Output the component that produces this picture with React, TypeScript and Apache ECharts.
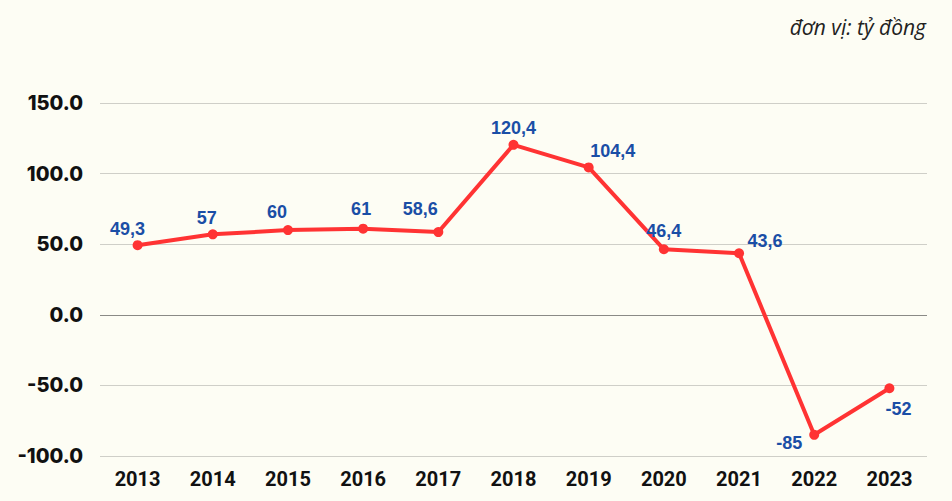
import React, { useEffect, useRef } from "react";
import * as echarts from "echarts";

const years = ["2013", "2014", "2015", "2016", "2017", "2018", "2019", "2020", "2021", "2022", "2023"];
const values = [49.3, 57, 60, 61, 58.6, 120.4, 104.4, 46.4, 43.6, -85, -52];
const yTicks = [-100, -50, 0, 50, 100, 150];
const unitText = "đơn vị: tỷ đồng";

// label placement tweaks (styling only)
const labelOffsets: [number, number][] = [
  [-10, 3], [-6, 3], [-11, 1], [-2, -1], [-18, -4], [0, 2], [24, 3], [0, 1], [26, 7], [-2, 8], [9, 2],
];

export default function App() {
  const ref = useRef<HTMLDivElement>(null);
  useEffect(() => {
    document.body.style.margin = "0";
    const chart = echarts.init(ref.current!, null, { renderer: "svg" });
    const labelPos = (i: number) => {
      let position = "top";
      if (i === 9) position = "left";
      if (i === 10) position = "bottom";
      return { position, offset: labelOffsets[i] };
    };
    chart.setOption({
      animation: false,
      backgroundColor: "#fdfdf4",
      graphic: [
        {
          type: "text",
          right: 26,
          top: 16,
          style: {
            text: unitText,
            font: "italic 21px 'Open Sans'",
            fill: "#222",
          },
        },
      ],
      grid: { left: 100, right: 25, top: 103, bottom: 45 },
      xAxis: {
        type: "category",
        data: years,
        boundaryGap: true,
        axisLine: { show: false },
        axisTick: { show: false },
        splitLine: { show: false },
        axisLabel: {
          color: "#111",
          fontSize: 20,
          fontWeight: "bold",
          fontFamily: "Roboto",
          margin: 13,
        },
      },
      yAxis: {
        type: "value",
        min: yTicks[0],
        max: yTicks[yTicks.length - 1],
        interval: 50,
        axisLine: { show: false },
        axisTick: { show: false },
        axisLabel: {
          formatter: (v: number) => v.toFixed(1),
          color: "#111",
          fontSize: 20,
          fontWeight: 800,
          fontFamily: "Inter",
          margin: 17,
        },
        splitLine: {
          lineStyle: {
            color: ["#cfcfc8", "#cfcfc8", "#8a8a86", "#cfcfc8", "#cfcfc8", "#cfcfc8"],
            width: 1,
          },
        },
      },
      series: [
        {
          type: "line",
          data: values.map((v, i) => ({
            value: v,
            label: labelPos(i),
          })),
          symbol: "circle",
          symbolSize: 10,
          lineStyle: { color: "#ff3333", width: 4 },
          itemStyle: { color: "#ff3333" },
          label: {
            show: true,
            formatter: (p: any) => String(p.value).replace(".", ","),
            color: "#1a4ea6",
            fontSize: 18,
            fontWeight: "bold",
            fontFamily: "'Liberation Sans'",
          },
        },
      ],
    });
    return () => chart.dispose();
  }, []);
  return <div ref={ref} style={{ width: 952, height: 501 }} />;
}
